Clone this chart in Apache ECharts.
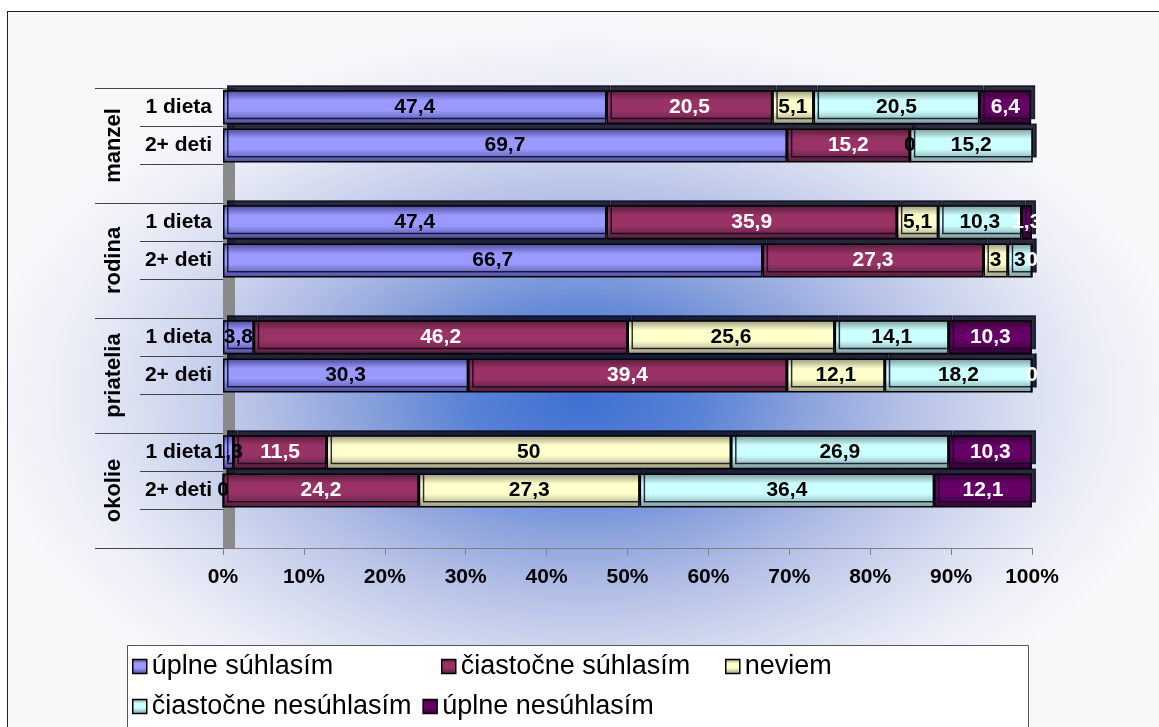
<!DOCTYPE html>
<html>
<head>
<meta charset="utf-8">
<script src="https://cdn.jsdelivr.net/npm/echarts@6/dist/echarts.min.js"></script>
<style>
  html, body { margin: 0; padding: 0; background: #fff; }
  #frame {
    position: absolute; left: 7px; top: 11px; width: 1160px; height: 730px;
    border: 1px solid #222;
    background: radial-gradient(ellipse 600px 370px at 575px 385px,
      #3f6fd3 0%, #5a83d6 20%, #8ea4dd 38%, #b7c2e7 55%, #d6dcf0 72%, #eceef7 86%, #f8f8fb 100%);
  }
  #chart { position: absolute; left: 0; top: 0; width: 1159px; height: 727px; }
</style>
</head>
<body>
<div id="frame"></div>
<div id="chart"></div>
<script>
// skupiny a podkategorie (poradie zhora nadol)
const groups = ['manzel', 'rodina', 'priatelia', 'okolie'];
const subLabels = ['1 dieta', '2+ deti'];
const seriesNames = ['úplne súhlasím', 'čiastočne súhlasím', 'neviem', 'čiastočne nesúhlasím', 'úplne nesúhlasím'];
const xTicks = [0, 10, 20, 30, 40, 50, 60, 70, 80, 90, 100];

// hodnoty v %: manzel 1, manzel 2+, rodina 1, rodina 2+, priatelia 1, priatelia 2+, okolie 1, okolie 2+
const uplneSuhlasim      = [47.4, 69.7, 47.4, 66.7, 3.8, 30.3, 1.3, 0];
const ciastocneSuhlasim  = [20.5, 15.2, 35.9, 27.3, 46.2, 39.4, 11.5, 24.2];
const neviem             = [5.1, 0, 5.1, 3, 25.6, 12.1, 50, 27.3];
const ciastocneNesuhlasim = [20.5, 15.2, 10.3, 3, 14.1, 18.2, 26.9, 36.4];
const uplneNesuhlasim    = [6.4, 0, 1.3, 0, 10.3, 0, 10.3, 12.1];

const values = [uplneSuhlasim, ciastocneSuhlasim, neviem, ciastocneNesuhlasim, uplneNesuhlasim];
const baseColors = ['#9999ff', '#993366', '#ffffcc', '#ccffff', '#660066'];
const darkColors = ['#4a4a96', '#561c39', '#97977a', '#789696', '#350035'];
const labelColors = ['#000', '#fff', '#000', '#000', '#fff'];

const FONT = 'Arial, "Liberation Sans", sans-serif';

// 12 riadkov: 2 riadky + prazdny na skupinu
const cats = [];
groups.forEach(g => {
  subLabels.forEach(s => cats.push(g + '|' + s));
  cats.push(g + '|');
});

function rowData(arr) {
  const out = [];
  groups.forEach((g, gi) => {
    out.push(arr[gi * 2], arr[gi * 2 + 1], '-');
  });
  return out;
}

const myChart = echarts.init(document.getElementById('chart'), null, { renderer: 'canvas' });

const series = seriesNames.map((name, i) => ({
  name: name,
  type: 'bar',
  stack: 'total',
  barWidth: 34,
  itemStyle: {
    color: new echarts.graphic.LinearGradient(0, 0, 0, 1, [
      { offset: 0, color: darkColors[i] },
      { offset: 0.3, color: baseColors[i] },
      { offset: 0.6, color: baseColors[i] },
      { offset: 1, color: darkColors[i] }
    ]),
    borderColor: '#000',
    borderWidth: 1.5,
    shadowColor: 'rgba(10,10,30,0.85)',
    shadowOffsetX: 4,
    shadowOffsetY: -5,
    shadowBlur: 0
  },
  label: {
    show: true,
    position: 'inside',
    color: labelColors[i],
    fontFamily: FONT,
    fontWeight: 'bold',
    fontSize: 21,
    formatter: p => String(p.value).replace('.', ',')
  },
  data: rowData(values[i])
}));

const legendBase = {
  orient: 'horizontal',
  icon: 'rect',
  itemWidth: 14,
  itemHeight: 14,
  padding: 0,
  itemStyle: { borderColor: '#000', borderWidth: 1.5, shadowBlur: 0, shadowOffsetX: 0, shadowOffsetY: 0, shadowColor: 'transparent' },
  textStyle: { fontFamily: FONT, fontSize: 27, color: '#000' }
};

const option = {
  animation: false,
  backgroundColor: 'transparent',
  grid: { left: 223, right: 127, top: 88, bottom: 179 },
  legend: [
    Object.assign({}, legendBase, { data: [seriesNames[0]], left: 132, top: 653 }),
    Object.assign({}, legendBase, { data: [seriesNames[1]], left: 441, top: 653 }),
    Object.assign({}, legendBase, { data: [seriesNames[2]], left: 725, top: 653 }),
    Object.assign({}, legendBase, { data: [seriesNames[3], seriesNames[4]], left: 132, top: 693, itemGap: 11 })
  ],
  graphic: [{
    type: 'rect',
    left: 127, top: 645,
    shape: { width: 901, height: 90 },
    style: { fill: '#fff', stroke: '#555', lineWidth: 1 },
    z: 1
  }],
  xAxis: {
    type: 'value',
    min: xTicks[0],
    max: xTicks[xTicks.length - 1],
    interval: 10,
    axisLine: { show: true, lineStyle: { color: '#808080', width: 1 } },
    axisTick: { show: true, length: 7, lineStyle: { color: '#808080' } },
    splitLine: { show: false },
    axisLabel: {
      formatter: '{value}%',
      color: '#000', fontFamily: FONT, fontWeight: 'bold', fontSize: 21, margin: 19
    }
  },
  yAxis: [
    {
      type: 'category',
      data: cats,
      inverse: true,
      axisLine: { show: false },
      axisTick: { show: true, length: 83, interval: 0, lineStyle: { color: '#444' } },
      axisLabel: {
        interval: 0,
        formatter: v => v.split('|')[1],
        color: '#000', fontFamily: FONT, fontWeight: 'bold', fontSize: 21, margin: 11
      }
    },
    {
      type: 'category',
      data: groups,
      inverse: true,
      position: 'left',
      axisLine: { show: false },
      axisTick: { show: true, length: 128, interval: 0, lineStyle: { color: '#444' } },
      axisLabel: {
        interval: 0, rotate: 90, margin: 98,
        color: '#000', fontFamily: FONT, fontWeight: 'bold', fontSize: 22
      }
    },
    {
      // bocna stena (3D)
      type: 'category',
      data: cats,
      inverse: true,
      position: 'left',
      offset: -6,
      axisLine: { show: true, lineStyle: { color: '#8a8a8a', width: 12, cap: 'butt' } },
      axisTick: { show: false },
      axisLabel: { show: false }
    }
  ],
  series: series
};

myChart.setOption(option);
</script>
</body>
</html>
